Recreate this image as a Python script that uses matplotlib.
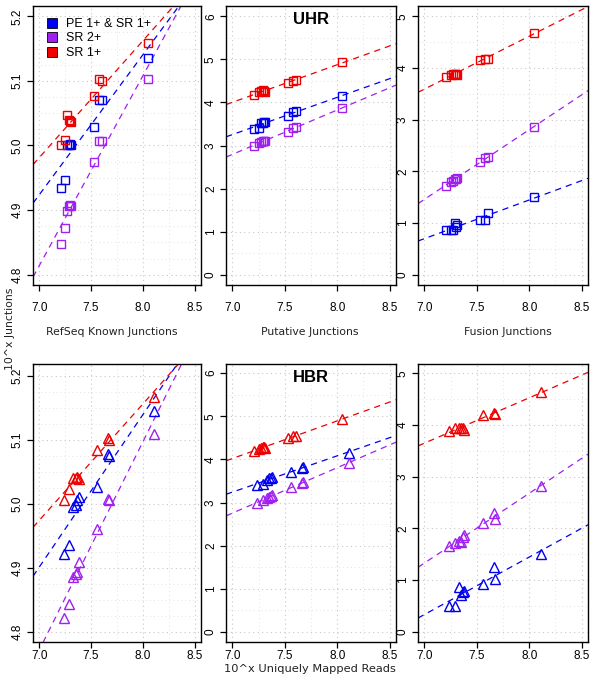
import matplotlib

matplotlib.use("Agg")
import matplotlib.pyplot as plt
import numpy as np
from matplotlib.lines import Line2D
from matplotlib.ticker import MultipleLocator

# log10 uniquely mapped reads per library
uhr_reads = [7.21, 7.25, 7.27, 7.29, 7.30, 7.31, 7.53, 7.58, 7.61, 8.05]
hbr_reads = [7.24, 7.29, 7.33, 7.35, 7.365, 7.38, 7.56, 7.66, 7.67, 8.11]

series_names = ["PE 1+ & SR 1+", "SR 2+", "SR 1+"]
series_colors = ["#0000EE", "#A020F0", "#EE0000"]

# UHR, log10 junction counts
uhr_known_pe = [4.934, 4.947, 5.001, 5.001, 5.002, 5.001, 5.028, 5.071, 5.071, 5.135]
uhr_known_sr2 = [4.847, 4.873, 4.899, 4.907, 4.908, 4.907, 4.975, 5.007, 5.007, 5.103]
uhr_known_sr1 = [5.000, 5.009, 5.047, 5.040, 5.038, 5.036, 5.077, 5.103, 5.100, 5.159]

uhr_putative_pe = [3.38, 3.41, 3.52, 3.53, 3.55, 3.55, 3.68, 3.78, 3.79, 4.15]
uhr_putative_sr2 = [3.00, 3.05, 3.08, 3.10, 3.11, 3.11, 3.32, 3.40, 3.42, 3.88]
uhr_putative_sr1 = [4.17, 4.25, 4.26, 4.28, 4.26, 4.25, 4.45, 4.50, 4.51, 4.94]

uhr_fusion_pe = [0.86, 0.86, 0.86, 1.00, 0.92, 0.96, 1.05, 1.05, 1.19, 1.51]
uhr_fusion_sr2 = [1.71, 1.80, 1.82, 1.85, 1.86, 1.88, 2.19, 2.25, 2.28, 2.86]
uhr_fusion_sr1 = [3.83, 3.87, 3.88, 3.88, 3.88, 3.87, 4.16, 4.18, 4.18, 4.68]

# HBR, log10 junction counts
hbr_known_pe = [4.922, 4.935, 4.995, 4.998, 5.005, 5.011, 5.026, 5.078, 5.074, 5.145]
hbr_known_sr2 = [4.822, 4.843, 4.886, 4.890, 4.893, 4.909, 4.961, 5.007, 5.005, 5.109]
hbr_known_sr1 = [5.006, 5.023, 5.040, 5.040, 5.041, 5.038, 5.083, 5.102, 5.100, 5.167]

hbr_putative_pe = [3.40, 3.44, 3.52, 3.56, 3.58, 3.60, 3.70, 3.80, 3.83, 4.155]
hbr_putative_sr2 = [2.98, 3.05, 3.10, 3.13, 3.15, 3.17, 3.35, 3.46, 3.47, 3.91]
hbr_putative_sr1 = [4.20, 4.24, 4.26, 4.28, 4.28, 4.27, 4.49, 4.54, 4.55, 4.93]  # plotted vs uhr_reads

hbr_fusion_pe = [0.50, 0.50, 0.86, 0.71, 0.77, 0.79, 0.92, 1.25, 1.02, 1.50]
hbr_fusion_sr2 = [1.65, 1.72, 1.76, 1.74, 1.83, 1.87, 2.11, 2.29, 2.18, 2.81]
hbr_fusion_sr1 = [3.89, 3.94, 3.95, 3.95, 3.935, 3.90, 4.19, 4.23, 4.21, 4.63]

panel_labels = ["RefSeq Known Junctions", "Putative Junctions", "Fusion Junctions"]
x_ticks = [7.0, 7.5, 8.0, 8.5]

W, H = 596, 675
fig = plt.figure(figsize=(W / 100, H / 100), dpi=100)

cols = [(33, 201), (226, 396), (418, 588)]
rows = [(6, 285), (364, 642)]


def axes_rect(left, top, right, bottom):
    return [left / W, 1 - bottom / H, (right - left) / W, (bottom - top) / H]


panels = [
    [
        ([uhr_reads] * 3, [uhr_known_pe, uhr_known_sr2, uhr_known_sr1], (4.784, 5.216), 0.1, "%.1f"),
        ([uhr_reads] * 3, [uhr_putative_pe, uhr_putative_sr2, uhr_putative_sr1], (-0.24, 6.24), 1, "%d"),
        ([uhr_reads] * 3, [uhr_fusion_pe, uhr_fusion_sr2, uhr_fusion_sr1], (-0.2, 5.2), 1, "%d"),
    ],
    [
        ([hbr_reads] * 3, [hbr_known_pe, hbr_known_sr2, hbr_known_sr1], (4.784, 5.218), 0.1, "%.1f"),
        ([hbr_reads, hbr_reads, uhr_reads], [hbr_putative_pe, hbr_putative_sr2, hbr_putative_sr1], (-0.23, 6.21), 1, "%d"),
        ([hbr_reads] * 3, [hbr_fusion_pe, hbr_fusion_sr2, hbr_fusion_sr1], (-0.2, 5.18), 1, "%d"),
    ],
]
markers = ["s", "^"]
marker_sizes = [6.0, 7.0]
titles = ["UHR", "HBR"]
tick_font = "Liberation Sans"

for r, (top, bottom) in enumerate(rows):
    for c, (left, right) in enumerate(cols):
        xs_list, ys_list, ylim, step, fmt = panels[r][c]
        ax = fig.add_axes(axes_rect(left, top, right, bottom))
        ax.set_xlim(6.94, 8.56)
        ax.set_ylim(*ylim)
        ax.set_xticks(x_ticks)
        ax.set_xticklabels(["%.1f" % t for t in x_ticks], family=tick_font, fontsize=8.5)
        yt = np.arange(np.ceil(ylim[0] / step - 1e-6), np.floor(ylim[1] / step + 1e-6) + 1) * step
        ax.set_yticks(yt)
        ax.set_yticklabels([fmt % t for t in yt], family=tick_font, fontsize=8.5,
                           rotation=90, va="center")
        ax.yaxis.set_minor_locator(MultipleLocator(step / 4 if step < 1 else step / 2))
        ax.xaxis.set_minor_locator(MultipleLocator(0.25))
        ax.tick_params(axis="both", which="major", direction="out", length=4.5, width=0.9)
        ax.tick_params(axis="x", pad=7.5 if r == 0 else 1.5)
        ax.tick_params(axis="y", pad=2)
        ax.tick_params(which="minor", length=0)
        ax.grid(True, which="major", color="#c8c8c8", linestyle=(0, (1, 3)), linewidth=0.8)
        ax.grid(True, which="minor", color="#e3e3e3", linestyle=(0, (1, 3)), linewidth=0.7)
        ax.set_axisbelow(True)
        for sp in ax.spines.values():
            sp.set_linewidth(1.0)

        xline = np.array(ax.get_xlim())
        for xs, ys, col in zip(xs_list, ys_list, series_colors):
            xs = np.asarray(xs)
            ys = np.asarray(ys)
            slope, intercept = np.polyfit(xs, ys, 1)
            ax.plot(xline, intercept + slope * xline, color=col, linewidth=0.9,
                    dashes=(5, 4), zorder=2)
            ax.plot(xs, ys, linestyle="none", marker=markers[r], markersize=marker_sizes[r],
                    markerfacecolor="none", markeredgecolor=col, markeredgewidth=1.0, zorder=3)

        if c == 1:
            ax.text(0.5, 1 - 14 / (bottom - top), titles[r], transform=ax.transAxes,
                    ha="center", va="center", fontsize=12, fontweight="bold",
                    family=tick_font)
        if r == 0 and c == 0:
            handles = [Line2D([], [], linestyle="none", marker="s", markersize=6.5,
                              markerfacecolor=col, markeredgecolor="black",
                              markeredgewidth=0.6) for col in series_colors]
            ax.legend(handles, series_names, loc="upper left", frameon=False,
                      prop={"family": tick_font, "size": 9}, handletextpad=0.5,
                      labelspacing=0.2, borderaxespad=0.6, handlelength=1.2,
                      borderpad=0.35)

label_x = [112, 310, 508]
for lx, text in zip(label_x, panel_labels):
    fig.text(lx / W, 1 - 332 / H, text, ha="center", va="center", fontsize=7.8,
             color="#222222")
fig.text(10 / W, 1 - 329 / H, "10^x Junctions", ha="center", va="center",
         rotation=90, fontsize=7.8, color="#222222")
fig.text(310 / W, 1 - 668.5 / H, "10^x Uniquely Mapped Reads", ha="center", va="center",
         fontsize=8.2, color="#222222")

fig.savefig("out.png", dpi=100)
